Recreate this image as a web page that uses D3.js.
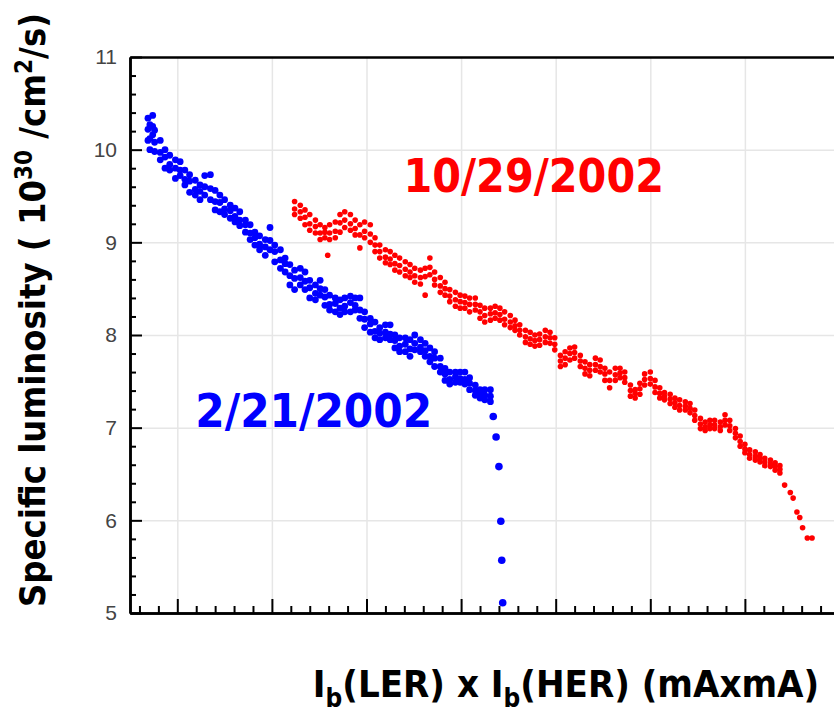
<!DOCTYPE html>
<html>
<head>
<meta charset="utf-8">
<script src="https://cdn.jsdelivr.net/npm/d3@7"></script>
<style>
  html, body { margin: 0; padding: 0; background: #fff; }
  svg { display: block; }
</style>
</head>
<body>
<svg id="drawing_region"></svg>
<script>
// y tick labels (x axis has no labels in the original)
const yTicks = [5, 6, 7, 8, 9, 10, 11];

// 2/21/2002 run: [x, upper edge, middle, lower edge] of the dot band
const blueBand = [
  [0.69,10.34,10.22,10.10],[0.71,10.27,10.12,10.00],[0.74,10.37,10.25,10.16],[0.76,10.21,10.08,9.98],
  [0.82,10.10,9.97,9.89],[0.87,10.00,9.92,9.80],[0.92,9.94,9.84,9.78],[0.98,9.89,9.80,9.69],
  [1.03,9.87,9.78,9.72],[1.08,9.78,9.68,9.62],[1.13,9.73,9.66,9.54],[1.19,9.67,9.57,9.51],
  [1.24,9.62,9.55,9.46],[1.29,9.72,9.60,9.51],[1.35,9.73,9.58,9.46],[1.40,9.56,9.44,9.35],
  [1.45,9.51,9.43,9.33],[1.50,9.46,9.36,9.30],[1.56,9.40,9.34,9.26],[1.61,9.37,9.28,9.22],
  [1.66,9.33,9.24,9.18],[1.72,9.24,9.19,9.11],[1.77,9.19,9.10,9.03],[1.82,9.11,9.05,8.97],
  [1.87,9.07,8.98,8.92],[1.93,9.03,8.95,8.86],[1.98,9.16,9.02,8.92],[2.03,8.97,8.90,8.79],
  [2.09,8.92,8.81,8.72],[2.14,8.83,8.77,8.68],[2.19,8.76,8.64,8.54],[2.24,8.70,8.61,8.49],
  [2.30,8.72,8.62,8.54],[2.35,8.68,8.58,8.49],[2.40,8.59,8.51,8.40],[2.46,8.54,8.45,8.38],
  [2.51,8.59,8.50,8.43],[2.56,8.49,8.41,8.32],[2.61,8.43,8.33,8.27],[2.67,8.40,8.34,8.25],
  [2.72,8.38,8.29,8.22],[2.77,8.40,8.31,8.25],[2.83,8.42,8.35,8.25],[2.88,8.40,8.32,8.27],
  [2.93,8.40,8.27,8.18],[2.98,8.25,8.17,8.08],[3.04,8.18,8.12,8.03],[3.09,8.14,8.04,7.97],
  [3.14,8.08,8.02,7.95],[3.20,8.11,8.03,7.97],[3.25,8.11,8.01,7.95],[3.30,8.00,7.94,7.86],
  [3.35,7.97,7.88,7.82],[3.41,7.97,7.90,7.82],[3.46,7.95,7.85,7.77],[3.51,8.00,7.91,7.84],
  [3.57,7.95,7.87,7.82],[3.62,7.91,7.83,7.77],[3.67,7.86,7.77,7.71],[3.72,7.82,7.75,7.66],
  [3.78,7.75,7.66,7.60],[3.83,7.64,7.58,7.51],[3.88,7.60,7.52,7.47],[3.94,7.60,7.55,7.49],
  [3.99,7.60,7.53,7.49],[4.04,7.60,7.52,7.47],[4.09,7.54,7.48,7.41],[4.15,7.46,7.40,7.35],
  [4.20,7.41,7.37,7.32],[4.25,7.41,7.35,7.30],[4.31,7.41,7.34,7.28]
];
// isolated points at the end of the 2/21 run
const blueTail = [[4.34,7.12],[4.37,6.90],[4.40,6.58],[4.42,5.99],[4.43,5.57],[4.44,5.11]];

// 10/29/2002 run
const redBand = [
  [2.24,9.44,9.36,9.30],[2.30,9.40,9.33,9.26],[2.35,9.35,9.27,9.19],[2.40,9.30,9.20,9.13],
  [2.46,9.24,9.17,9.10],[2.51,9.19,9.10,9.03],[2.56,9.16,9.11,9.05],[2.61,9.19,9.10,9.03],
  [2.67,9.22,9.12,9.05],[2.72,9.30,9.21,9.11],[2.77,9.33,9.24,9.16],[2.83,9.30,9.20,9.13],
  [2.88,9.24,9.15,9.08],[2.93,9.19,9.08,8.94],[2.98,9.22,9.12,9.05],[3.04,9.19,9.09,9.00],
  [3.09,9.05,8.97,8.90],[3.14,8.97,8.90,8.83],[3.20,8.92,8.84,8.78],[3.25,8.90,8.82,8.76],
  [3.30,8.86,8.77,8.70],[3.35,8.83,8.75,8.68],[3.41,8.79,8.71,8.64],[3.46,8.76,8.68,8.62],
  [3.51,8.72,8.64,8.57],[3.57,8.70,8.62,8.55],[3.62,8.72,8.63,8.43],[3.67,8.83,8.73,8.65],
  [3.72,8.68,8.60,8.54],[3.78,8.62,8.53,8.46],[3.83,8.57,8.50,8.43],[3.88,8.49,8.42,8.36],
  [3.94,8.46,8.38,8.31],[3.99,8.43,8.36,8.29],[4.04,8.42,8.35,8.29],[4.09,8.40,8.33,8.25],
  [4.15,8.40,8.33,8.27],[4.20,8.32,8.25,8.18],[4.25,8.29,8.21,8.14],[4.31,8.29,8.23,8.16],
  [4.36,8.31,8.24,8.18],[4.41,8.29,8.22,8.16],[4.46,8.25,8.17,8.11],[4.52,8.21,8.14,8.08],
  [4.57,8.16,8.10,8.05],[4.62,8.11,8.05,8.00],[4.68,8.05,7.98,7.92],[4.73,8.03,7.96,7.90],
  [4.78,8.00,7.94,7.88],[4.83,8.01,7.95,7.89],[4.89,8.05,7.98,7.92],[4.94,8.03,7.97,7.91],
  [4.99,7.97,7.90,7.84],[5.05,7.78,7.72,7.66],[5.10,7.82,7.75,7.68],[5.15,7.86,7.80,7.73],
  [5.20,7.87,7.81,7.75],[5.26,7.78,7.72,7.66],[5.31,7.71,7.64,7.58],[5.36,7.68,7.62,7.56],
  [5.42,7.75,7.68,7.62],[5.47,7.73,7.66,7.60],[5.52,7.64,7.58,7.51],[5.57,7.60,7.51,7.43],
  [5.63,7.64,7.57,7.51],[5.68,7.64,7.59,7.54],[5.73,7.60,7.54,7.49],[5.79,7.46,7.40,7.34],
  [5.84,7.41,7.37,7.32],[5.89,7.48,7.42,7.36],[5.94,7.58,7.52,7.46],[6.00,7.60,7.53,7.47],
  [6.05,7.51,7.44,7.38],[6.10,7.43,7.37,7.32],[6.15,7.38,7.34,7.30],[6.21,7.36,7.31,7.26],
  [6.26,7.32,7.27,7.22],[6.31,7.30,7.24,7.19],[6.37,7.28,7.23,7.19],[6.42,7.26,7.21,7.16],
  [6.47,7.19,7.13,7.08],[6.53,7.10,7.04,6.99],[6.58,7.06,7.01,6.97],[6.63,7.08,7.03,6.99],
  [6.68,7.08,7.03,6.99],[6.74,7.06,7.01,6.97],[6.79,7.14,7.08,7.03],[6.84,7.08,7.02,6.97],
  [6.90,6.99,6.94,6.89],[6.95,6.91,6.85,6.80],[7.00,6.82,6.77,6.73],[7.05,6.76,6.71,6.67],
  [7.11,6.74,6.69,6.65],[7.16,6.71,6.67,6.63],[7.21,6.67,6.63,6.59],[7.27,6.65,6.61,6.58],
  [7.32,6.62,6.58,6.54],[7.37,6.59,6.55,6.51]
];
const redTail = [[2.59,8.86],[7.42,6.38],[7.48,6.30],[7.51,6.24],[7.55,6.09],[7.58,6.03],[7.61,5.92],[7.66,5.81],[7.71,5.81]];

const series = [
  { name: '2/21/2002', color: '#0000ff', band: blueBand, tail: blueTail, r: 3.4, tailR: 3.8, label: [1.19, 7.01], size: 47 },
  { name: '10/29/2002', color: '#ff0000', band: redBand, tail: redTail, r: 2.8, tailR: 2.8, label: [3.39, 9.54], size: 46 }
];

class LumiPlot {
  constructor(config) {
    this.config = config;
    this.init();
  }

  init() {
    const self = this;
    const c = self.config;

    self.svg = d3.select(c.parent)
      .attr('width', c.width)
      .attr('height', c.height);

    self.svg.append('rect')
      .attr('width', c.width).attr('height', c.height)
      .attr('fill', '#fff');

    self.chart = self.svg.append('g')
      .attr('transform', `translate(${c.margin.left}, ${c.margin.top})`);

    self.inner_height = c.innerHeight;
    self.inner_width = c.innerWidth;

    self.xscale = d3.scaleLinear()
      .domain(c.xDomain)
      .range([0, self.inner_width]);

    self.yscale = d3.scaleLinear()
      .domain([5, 11])
      .range([self.inner_height, 0]);
  }

  render() {
    const self = this;
    const c = self.config;
    const x = self.xscale, y = self.yscale;
    const W = self.inner_width, H = self.inner_height;

    const xMajor = d3.range(1, 8);
    const xMinor = d3.range(0.6, 7.9, 0.2).filter(v => Math.abs(v - Math.round(v)) > 0.05);
    const yMinor = d3.range(5.2, 11, 0.2).filter(v => Math.abs(v - Math.round(v)) > 0.05);

    // grid
    self.chart.append('g')
      .call(d3.axisBottom(x).tickValues(xMajor).tickSize(H).tickFormat(''))
      .call(g => g.select('.domain').remove())
      .call(g => g.selectAll('line').attr('stroke', '#e6e6e6').attr('stroke-width', 1.5));
    self.chart.append('g')
      .call(d3.axisRight(y).tickValues([6, 7, 8, 9, 10]).tickSize(W).tickFormat(''))
      .call(g => g.select('.domain').remove())
      .call(g => g.selectAll('line').attr('stroke', '#e6e6e6').attr('stroke-width', 1.5));

    // points
    series.forEach(s => {
      const pts = [];
      s.band.forEach(d => {
        pts.push([d[0], d[1]], [d[0], d[2]], [d[0], d[3]]);
      });
      self.chart.append('g')
        .selectAll('circle')
        .data(pts)
        .join('circle')
        .attr('cx', d => x(d[0]))
        .attr('cy', d => y(d[1]))
        .attr('r', s.r)
        .attr('fill', s.color);
      self.chart.append('g')
        .selectAll('circle')
        .data(s.tail)
        .join('circle')
        .attr('cx', d => x(d[0]))
        .attr('cy', d => y(d[1]))
        .attr('r', s.tailR)
        .attr('fill', s.color);

      self.chart.append('text')
        .attr('x', x(s.label[0]))
        .attr('y', y(s.label[1]))
        .attr('fill', s.color)
        .attr('font-family', "'DejaVu Sans Condensed', 'DejaVu Sans', sans-serif")
        .attr('font-stretch', 'condensed')
        .attr('font-weight', 'bold')
        .attr('font-size', s.size)
        .text(s.name);
    });

    // axes with inward ticks
    const axisStyle = g => {
      g.selectAll('.domain').attr('stroke', '#000').attr('stroke-width', 2.5);
      g.selectAll('.tick line').attr('stroke', '#000').attr('stroke-width', 2);
    };
    self.chart.append('g')
      .call(d3.axisLeft(y).tickValues(yMinor).tickSize(-6).tickFormat('').tickSizeOuter(0))
      .call(axisStyle);
    self.chart.append('g')
      .call(d3.axisLeft(y).tickValues(yTicks).tickSize(-12).tickSizeOuter(0).tickPadding(13).tickFormat(d3.format('d')))
      .call(axisStyle)
      .call(g => g.selectAll('text')
        .attr('font-family', "'Liberation Sans', Arial, sans-serif")
        .attr('font-size', 21)
        .attr('fill', '#444'));
    self.chart.append('g')
      .attr('transform', `translate(0, ${H})`)
      .call(d3.axisBottom(x).tickValues(xMinor).tickSize(-7).tickFormat('').tickSizeOuter(0))
      .call(axisStyle);
    self.chart.append('g')
      .attr('transform', `translate(0, ${H})`)
      .call(d3.axisBottom(x).tickValues(xMajor).tickSize(-14).tickFormat('').tickSizeOuter(0))
      .call(axisStyle);
    // top frame
    self.chart.append('g')
      .call(d3.axisTop(x).tickValues([]).tickSizeOuter(0))
      .call(axisStyle);

    // axis titles
    const titleFont = "'DejaVu Sans Condensed', 'DejaVu Sans', sans-serif";
    const yt = self.svg.append('text')
      .attr('transform', `translate(45, ${c.titles.yCenter}) rotate(-90)`)
      .attr('text-anchor', 'middle')
      .attr('font-family', titleFont)
      .attr('font-stretch', 'condensed')
      .attr('font-weight', 'bold')
      .attr('font-size', 36)
      .attr('fill', '#000');
    yt.append('tspan').text('Specific luminosity ( 10');
    yt.append('tspan').attr('dy', -13).attr('font-size', 24).text('30');
    yt.append('tspan').attr('dy', 13).text(' /cm');
    yt.append('tspan').attr('dy', -13).attr('font-size', 24).text('2');
    yt.append('tspan').attr('dy', 13).text('/s)');

    const xt = self.svg.append('text')
      .attr('x', c.titles.xCenter)
      .attr('y', 697)
      .attr('text-anchor', 'middle')
      .attr('font-family', titleFont)
      .attr('font-stretch', 'condensed')
      .attr('font-weight', 'bold')
      .attr('font-size', 38)
      .attr('fill', '#000');
    xt.append('tspan').text('I');
    xt.append('tspan').attr('dy', 10).attr('font-size', 26).text('b');
    xt.append('tspan').attr('dy', -10).text('(LER) x I');
    xt.append('tspan').attr('dy', 10).attr('font-size', 26).text('b');
    xt.append('tspan').attr('dy', -10).text('(HER) (mAxmA)');
  }
}

const plot = new LumiPlot({
  parent: '#drawing_region',
  width: 834,
  height: 717,
  margin: { top: 57, left: 130 },
  innerWidth: 704,
  innerHeight: 556,
  xDomain: [0.5, 7.942],
  titles: { yCenter: 310, xCenter: 566 }
});
plot.render();
</script>
</body>
</html>
